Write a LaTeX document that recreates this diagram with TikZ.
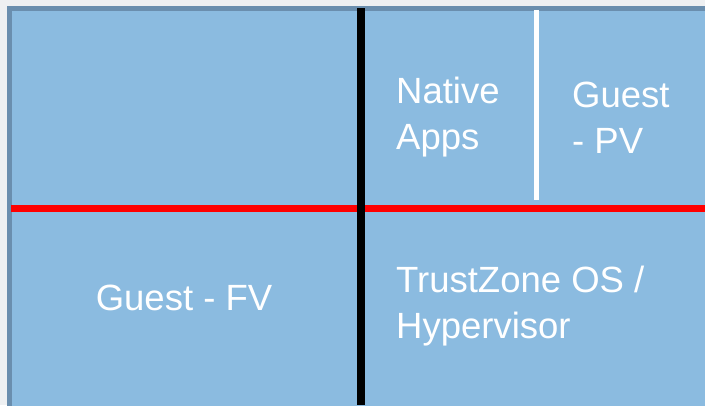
\documentclass[tikz,border=0pt]{standalone}
\usepackage{fontspec}
\setmainfont{Liberation Sans}
\definecolor{paneblue}{RGB}{139,187,224}
\definecolor{paneedge}{RGB}{106,142,174}
\definecolor{backgray}{RGB}{238,240,242}
\tikzset{
    label text/.style={text=white, font=\fontsize{36.5}{46}\selectfont, align=left, inner sep=0pt},
}
\begin{document}
\begin{tikzpicture}[x=1pt, y=-1pt]
            \fill[backgray] (0, 0) rectangle (705, 405);
            \useasboundingbox (0, 0) rectangle (705, 405);

            % main pane, running off the right and bottom edges
            \draw[paneedge, line width=5pt, fill=paneblue] (9, 8) rectangle (715, 415);

            % separators
            \draw[red, line width=7pt] (11, 208) -- (705, 208);
            \draw[white, line width=5pt] (536.5, 10) -- (536.5, 200);
            \draw[black, line width=8pt] (361, 8) -- (361, 405);

            \node[label text, anchor=west] (native) at (396, 117) {Native\\Apps};
            \node[label text, anchor=west] (guestpv) at (572, 118) {Guest\\- PV};
            \node[label text] (guestfv) at (184, 298) {Guest - FV};
            \node[label text, anchor=west] (trustzone) at (396, 306) {TrustZone OS /\\Hypervisor};

        \end{tikzpicture}
\end{document}
